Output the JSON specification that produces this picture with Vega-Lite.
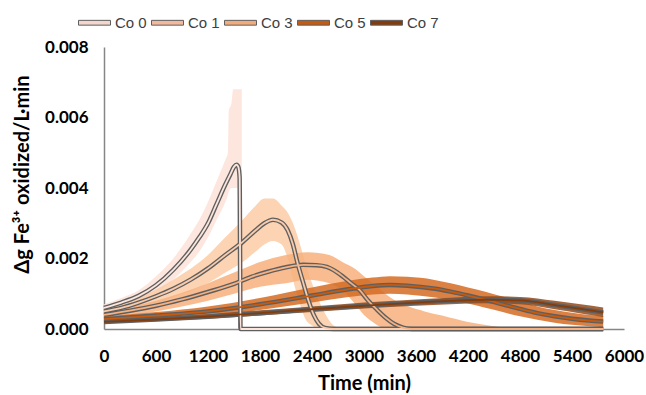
{
  "$schema": "https://vega.github.io/schema/vega-lite/v6.json",
  "width": 520,
  "height": 282,
  "autosize": {"type": "none"},
  "padding": {"left": 104, "top": 47, "right": 22, "bottom": 66},
  "background": "white",
  "config": {"view": {"stroke": null}, "font": "Lato"},
  "datasets": {
    "bands": [
      {"s": "Co 0", "t": 0, "lo": 0.0005, "hi": 0.0007},
      {"s": "Co 0", "t": 200, "lo": 0.00062, "hi": 0.00088},
      {"s": "Co 0", "t": 400, "lo": 0.00078, "hi": 0.0011},
      {"s": "Co 0", "t": 600, "lo": 0.001, "hi": 0.0015},
      {"s": "Co 0", "t": 800, "lo": 0.0014, "hi": 0.002},
      {"s": "Co 0", "t": 1000, "lo": 0.0019, "hi": 0.0027},
      {"s": "Co 0", "t": 1100, "lo": 0.0022, "hi": 0.0031},
      {"s": "Co 0", "t": 1200, "lo": 0.0026, "hi": 0.0036},
      {"s": "Co 0", "t": 1300, "lo": 0.0031, "hi": 0.0042},
      {"s": "Co 0", "t": 1400, "lo": 0.0036, "hi": 0.0048},
      {"s": "Co 0", "t": 1430, "lo": 0.0038, "hi": 0.005},
      {"s": "Co 0", "t": 1440, "lo": 0.0039, "hi": 0.0062},
      {"s": "Co 0", "t": 1470, "lo": 0.004, "hi": 0.0064},
      {"s": "Co 0", "t": 1490, "lo": 0.004, "hi": 0.0068},
      {"s": "Co 0", "t": 1540, "lo": 0.004, "hi": 0.0068},
      {"s": "Co 0", "t": 1550, "lo": 0.0, "hi": 0.0068},
      {"s": "Co 0", "t": 1590, "lo": 0.0, "hi": 0.0068},
      {"s": "Co 0", "t": 1595, "lo": 0.0, "hi": 0.0},
      {"s": "Co 1", "t": 0, "lo": 0.0004, "hi": 0.0006},
      {"s": "Co 1", "t": 400, "lo": 0.0006, "hi": 0.0009},
      {"s": "Co 1", "t": 800, "lo": 0.0009, "hi": 0.0014},
      {"s": "Co 1", "t": 1200, "lo": 0.0013, "hi": 0.0021},
      {"s": "Co 1", "t": 1400, "lo": 0.0016, "hi": 0.0026},
      {"s": "Co 1", "t": 1600, "lo": 0.0019, "hi": 0.0031},
      {"s": "Co 1", "t": 1750, "lo": 0.0022, "hi": 0.0035},
      {"s": "Co 1", "t": 1850, "lo": 0.0024, "hi": 0.0037},
      {"s": "Co 1", "t": 1950, "lo": 0.0025, "hi": 0.0037},
      {"s": "Co 1", "t": 2050, "lo": 0.0024, "hi": 0.0035},
      {"s": "Co 1", "t": 2120, "lo": 0.002, "hi": 0.0033},
      {"s": "Co 1", "t": 2180, "lo": 0.0014, "hi": 0.003},
      {"s": "Co 1", "t": 2250, "lo": 0.0008, "hi": 0.0025},
      {"s": "Co 1", "t": 2320, "lo": 0.0003, "hi": 0.0019},
      {"s": "Co 1", "t": 2400, "lo": 0.0001, "hi": 0.0013},
      {"s": "Co 1", "t": 2480, "lo": 0.0, "hi": 0.0008},
      {"s": "Co 1", "t": 2560, "lo": 0.0, "hi": 0.0004},
      {"s": "Co 1", "t": 2650, "lo": 0.0, "hi": 0.0001},
      {"s": "Co 1", "t": 2750, "lo": 0.0, "hi": 0.0},
      {"s": "Co 3", "t": 0, "lo": 0.0003, "hi": 0.0005},
      {"s": "Co 3", "t": 600, "lo": 0.0005, "hi": 0.0008},
      {"s": "Co 3", "t": 1200, "lo": 0.0008, "hi": 0.0013},
      {"s": "Co 3", "t": 1500, "lo": 0.001, "hi": 0.0016},
      {"s": "Co 3", "t": 1800, "lo": 0.0012, "hi": 0.0019},
      {"s": "Co 3", "t": 2100, "lo": 0.0013, "hi": 0.0021},
      {"s": "Co 3", "t": 2350, "lo": 0.0014, "hi": 0.00218},
      {"s": "Co 3", "t": 2600, "lo": 0.0013, "hi": 0.0021},
      {"s": "Co 3", "t": 2750, "lo": 0.0011, "hi": 0.0019},
      {"s": "Co 3", "t": 2900, "lo": 0.0007, "hi": 0.0017},
      {"s": "Co 3", "t": 3000, "lo": 0.0004, "hi": 0.0015},
      {"s": "Co 3", "t": 3100, "lo": 0.0002, "hi": 0.0013},
      {"s": "Co 3", "t": 3200, "lo": 0.00005, "hi": 0.0011},
      {"s": "Co 3", "t": 3300, "lo": 0.0, "hi": 0.0009},
      {"s": "Co 3", "t": 3500, "lo": 0.0, "hi": 0.00065},
      {"s": "Co 3", "t": 3700, "lo": 0.0, "hi": 0.0005},
      {"s": "Co 3", "t": 3900, "lo": 0.0, "hi": 0.00038},
      {"s": "Co 3", "t": 4200, "lo": 0.0, "hi": 0.0002},
      {"s": "Co 3", "t": 4500, "lo": 0.0, "hi": 0.00008},
      {"s": "Co 3", "t": 4850, "lo": 0.0, "hi": 0.0},
      {"s": "Co 5", "t": 0, "lo": 0.0002, "hi": 0.00036},
      {"s": "Co 5", "t": 600, "lo": 0.00028, "hi": 0.00048},
      {"s": "Co 5", "t": 1200, "lo": 0.00038, "hi": 0.00064},
      {"s": "Co 5", "t": 1800, "lo": 0.00054, "hi": 0.00088},
      {"s": "Co 5", "t": 2400, "lo": 0.00075, "hi": 0.00118},
      {"s": "Co 5", "t": 2800, "lo": 0.0009, "hi": 0.00136},
      {"s": "Co 5", "t": 3100, "lo": 0.00098, "hi": 0.00146},
      {"s": "Co 5", "t": 3300, "lo": 0.001, "hi": 0.0015},
      {"s": "Co 5", "t": 3500, "lo": 0.00098, "hi": 0.00148},
      {"s": "Co 5", "t": 3800, "lo": 0.0009, "hi": 0.0014},
      {"s": "Co 5", "t": 4000, "lo": 0.00082, "hi": 0.0013},
      {"s": "Co 5", "t": 4200, "lo": 0.00072, "hi": 0.00118},
      {"s": "Co 5", "t": 4400, "lo": 0.0006, "hi": 0.00106},
      {"s": "Co 5", "t": 4600, "lo": 0.00048, "hi": 0.00092},
      {"s": "Co 5", "t": 4800, "lo": 0.00036, "hi": 0.00078},
      {"s": "Co 5", "t": 5000, "lo": 0.00026, "hi": 0.00064},
      {"s": "Co 5", "t": 5200, "lo": 0.00018, "hi": 0.00054},
      {"s": "Co 5", "t": 5400, "lo": 0.00012, "hi": 0.00046},
      {"s": "Co 5", "t": 5600, "lo": 0.00008, "hi": 0.0004},
      {"s": "Co 5", "t": 5760, "lo": 0.00005, "hi": 0.00037},
      {"s": "Co 7", "t": 0, "lo": 0.00016, "hi": 0.00026},
      {"s": "Co 7", "t": 600, "lo": 0.00022, "hi": 0.00033},
      {"s": "Co 7", "t": 1200, "lo": 0.00029, "hi": 0.00042},
      {"s": "Co 7", "t": 1800, "lo": 0.00038, "hi": 0.00053},
      {"s": "Co 7", "t": 2400, "lo": 0.00048, "hi": 0.00064},
      {"s": "Co 7", "t": 3000, "lo": 0.00058, "hi": 0.00075},
      {"s": "Co 7", "t": 3600, "lo": 0.00066, "hi": 0.00084},
      {"s": "Co 7", "t": 4000, "lo": 0.0007, "hi": 0.00089},
      {"s": "Co 7", "t": 4400, "lo": 0.00073, "hi": 0.00093},
      {"s": "Co 7", "t": 4800, "lo": 0.0007, "hi": 0.00091},
      {"s": "Co 7", "t": 5200, "lo": 0.00056, "hi": 0.0008},
      {"s": "Co 7", "t": 5500, "lo": 0.00044, "hi": 0.0007},
      {"s": "Co 7", "t": 5760, "lo": 0.00034, "hi": 0.00061}
    ],
    "lines": [
      {"s": "Co 0", "t": 0, "v": 0.0006},
      {"s": "Co 0", "t": 200, "v": 0.00075},
      {"s": "Co 0", "t": 400, "v": 0.00094},
      {"s": "Co 0", "t": 600, "v": 0.00124},
      {"s": "Co 0", "t": 800, "v": 0.00168},
      {"s": "Co 0", "t": 1000, "v": 0.00225},
      {"s": "Co 0", "t": 1100, "v": 0.0026},
      {"s": "Co 0", "t": 1200, "v": 0.003},
      {"s": "Co 0", "t": 1300, "v": 0.00355},
      {"s": "Co 0", "t": 1400, "v": 0.0041},
      {"s": "Co 0", "t": 1460, "v": 0.0044},
      {"s": "Co 0", "t": 1500, "v": 0.0046},
      {"s": "Co 0", "t": 1530, "v": 0.00466},
      {"s": "Co 0", "t": 1550, "v": 0.0046},
      {"s": "Co 0", "t": 1565, "v": 0.0043},
      {"s": "Co 0", "t": 1575, "v": 0.0},
      {"s": "Co 0", "t": 5760, "v": 0.0},
      {"s": "Co 1", "t": 0, "v": 0.0005},
      {"s": "Co 1", "t": 200, "v": 0.0006},
      {"s": "Co 1", "t": 400, "v": 0.00075},
      {"s": "Co 1", "t": 600, "v": 0.00093},
      {"s": "Co 1", "t": 800, "v": 0.00114},
      {"s": "Co 1", "t": 1000, "v": 0.0014},
      {"s": "Co 1", "t": 1200, "v": 0.00172},
      {"s": "Co 1", "t": 1400, "v": 0.0021},
      {"s": "Co 1", "t": 1600, "v": 0.00247},
      {"s": "Co 1", "t": 1750, "v": 0.0028},
      {"s": "Co 1", "t": 1850, "v": 0.003},
      {"s": "Co 1", "t": 1950, "v": 0.0031},
      {"s": "Co 1", "t": 2050, "v": 0.00302},
      {"s": "Co 1", "t": 2120, "v": 0.0028},
      {"s": "Co 1", "t": 2180, "v": 0.0024},
      {"s": "Co 1", "t": 2230, "v": 0.0019},
      {"s": "Co 1", "t": 2300, "v": 0.0013},
      {"s": "Co 1", "t": 2360, "v": 0.0008},
      {"s": "Co 1", "t": 2420, "v": 0.0004},
      {"s": "Co 1", "t": 2480, "v": 0.00015},
      {"s": "Co 1", "t": 2550, "v": 0.00003},
      {"s": "Co 1", "t": 2650, "v": 0.0},
      {"s": "Co 1", "t": 5760, "v": 0.0},
      {"s": "Co 3", "t": 0, "v": 0.0004},
      {"s": "Co 3", "t": 300, "v": 0.00052},
      {"s": "Co 3", "t": 600, "v": 0.00066},
      {"s": "Co 3", "t": 900, "v": 0.00084},
      {"s": "Co 3", "t": 1200, "v": 0.00105},
      {"s": "Co 3", "t": 1500, "v": 0.00128},
      {"s": "Co 3", "t": 1700, "v": 0.00148},
      {"s": "Co 3", "t": 1900, "v": 0.00163},
      {"s": "Co 3", "t": 2100, "v": 0.00175},
      {"s": "Co 3", "t": 2300, "v": 0.00182},
      {"s": "Co 3", "t": 2450, "v": 0.00181},
      {"s": "Co 3", "t": 2570, "v": 0.00176},
      {"s": "Co 3", "t": 2650, "v": 0.00167},
      {"s": "Co 3", "t": 2750, "v": 0.0015},
      {"s": "Co 3", "t": 2850, "v": 0.0013},
      {"s": "Co 3", "t": 2950, "v": 0.0011},
      {"s": "Co 3", "t": 3050, "v": 0.0008},
      {"s": "Co 3", "t": 3150, "v": 0.00055},
      {"s": "Co 3", "t": 3250, "v": 0.00032},
      {"s": "Co 3", "t": 3350, "v": 0.00014},
      {"s": "Co 3", "t": 3450, "v": 0.00004},
      {"s": "Co 3", "t": 3550, "v": 0.0},
      {"s": "Co 3", "t": 5760, "v": 0.0},
      {"s": "Co 5", "t": 0, "v": 0.00028},
      {"s": "Co 5", "t": 600, "v": 0.00038},
      {"s": "Co 5", "t": 1200, "v": 0.0005},
      {"s": "Co 5", "t": 1800, "v": 0.0007},
      {"s": "Co 5", "t": 2400, "v": 0.00095},
      {"s": "Co 5", "t": 2800, "v": 0.00112},
      {"s": "Co 5", "t": 3100, "v": 0.00122},
      {"s": "Co 5", "t": 3300, "v": 0.00125},
      {"s": "Co 5", "t": 3500, "v": 0.00123},
      {"s": "Co 5", "t": 3800, "v": 0.00115},
      {"s": "Co 5", "t": 4000, "v": 0.00106},
      {"s": "Co 5", "t": 4200, "v": 0.00095},
      {"s": "Co 5", "t": 4400, "v": 0.00083},
      {"s": "Co 5", "t": 4600, "v": 0.0007},
      {"s": "Co 5", "t": 4800, "v": 0.00057},
      {"s": "Co 5", "t": 5000, "v": 0.00045},
      {"s": "Co 5", "t": 5200, "v": 0.00036},
      {"s": "Co 5", "t": 5400, "v": 0.00029},
      {"s": "Co 5", "t": 5600, "v": 0.00024},
      {"s": "Co 5", "t": 5760, "v": 0.00021},
      {"s": "Co 7", "t": 0, "v": 0.0002},
      {"s": "Co 7", "t": 600, "v": 0.00027},
      {"s": "Co 7", "t": 1200, "v": 0.00035},
      {"s": "Co 7", "t": 1800, "v": 0.00045},
      {"s": "Co 7", "t": 2400, "v": 0.00056},
      {"s": "Co 7", "t": 3000, "v": 0.00066},
      {"s": "Co 7", "t": 3600, "v": 0.00075},
      {"s": "Co 7", "t": 4000, "v": 0.0008},
      {"s": "Co 7", "t": 4400, "v": 0.00083},
      {"s": "Co 7", "t": 4800, "v": 0.00081},
      {"s": "Co 7", "t": 5200, "v": 0.00068},
      {"s": "Co 7", "t": 5500, "v": 0.00057},
      {"s": "Co 7", "t": 5760, "v": 0.00047}
    ]
  },
  "encoding": {
    "x": {
      "field": "t", "type": "quantitative",
      "scale": {"domain": [0, 6000], "nice": false, "zero": false},
      "axis": {
        "values": [0, 600, 1200, 1800, 2400, 3000, 3600, 4200, 4800, 5400, 6000],
        "format": "d", "title": "Time (min)", "grid": false, "ticks": false, "tickSize": 0,
        "domainColor": "#868686", "domainWidth": 1.5,
        "labelFont": "Lato", "labelFontWeight": "bold", "labelFontSize": 17, "labelColor": "#000000",
        "labelPadding": 19, "labelFlush": false, "labelOverlap": false,
        "titleFont": "Lato", "titleFontWeight": "bold", "titleFontSize": 20, "titleColor": "#000000",
        "titleBaseline": "middle", "titleY": 54
      }
    }
  },
  "layer": [
    {
      "data": {"name": "bands"},
      "mark": {"type": "area", "interpolate": "monotone", "opacity": 0.85},
      "encoding": {
        "y": {
          "field": "lo", "type": "quantitative",
          "scale": {"domain": [0, 0.008], "nice": false},
          "axis": {
            "values": [0, 0.002, 0.004, 0.006, 0.008], "format": ".3f",
            "title": "Δg Fe³⁺ oxidized/L·min", "grid": false, "ticks": false, "tickSize": 0,
            "domainColor": "#868686", "domainWidth": 1.5,
            "labelFont": "Lato", "labelFontWeight": "bold", "labelFontSize": 17, "labelColor": "#000000",
            "labelPadding": 16,
            "titleFont": "Lato", "titleFontWeight": "bold", "titleFontSize": 20, "titleColor": "#000000",
            "titleAngle": -90, "titleBaseline": "middle", "titleX": -82, "titleY": 127
          }
        },
        "y2": {"field": "hi"},
        "fill": {
          "field": "s", "type": "nominal",
          "scale": {"range": ["#fde2d8", "#fbcba6", "#f7b07c", "#d56b22", "#934a1a"]},
          "legend": null
        }
      }
    },
    {
      "data": {"name": "lines"},
      "mark": {"type": "line", "interpolate": "monotone", "stroke": "#5f5f5f", "strokeWidth": 4.5},
      "encoding": {
        "y": {"field": "v", "type": "quantitative"},
        "detail": {"field": "s", "type": "nominal"}
      }
    },
    {
      "data": {"name": "lines"},
      "mark": {"type": "line", "interpolate": "monotone", "strokeWidth": 1.8},
      "encoding": {
        "y": {"field": "v", "type": "quantitative"},
        "stroke": {
          "field": "s", "type": "nominal",
          "scale": {"range": ["#fbe5dc", "#f8cbad", "#f4b183", "#c55a11", "#843c0c"]},
          "legend": null
        }
      }
    },
    {
      "data": {"name": "lines"},
      "mark": {"type": "point", "filled": true, "opacity": 0, "size": 1},
      "encoding": {
        "y": {"field": "v", "type": "quantitative"},
        "color": {
          "field": "s", "type": "nominal",
          "scale": {"domain": ["Co 0", "Co 1", "Co 3", "Co 5", "Co 7"], "range": ["#f4d6cc", "#f3b99d", "#f4ab7b", "#c55a11", "#843c0c"]},
          "legend": {
            "orient": "none", "legendX": -26, "legendY": -41, "direction": "horizontal", "title": null,
            "symbolType": "M-1,-0.15H1V0.15H-1Z", "symbolSize": 1024,
            "symbolStrokeColor": "#5f5f5f", "symbolStrokeWidth": 1, "symbolOpacity": 1,
            "labelFont": "Liberation Sans", "labelFontSize": 15, "labelColor": "#404040",
            "labelOffset": 4, "columnPadding": 2
          }
        }
      }
    }
  ]
}
